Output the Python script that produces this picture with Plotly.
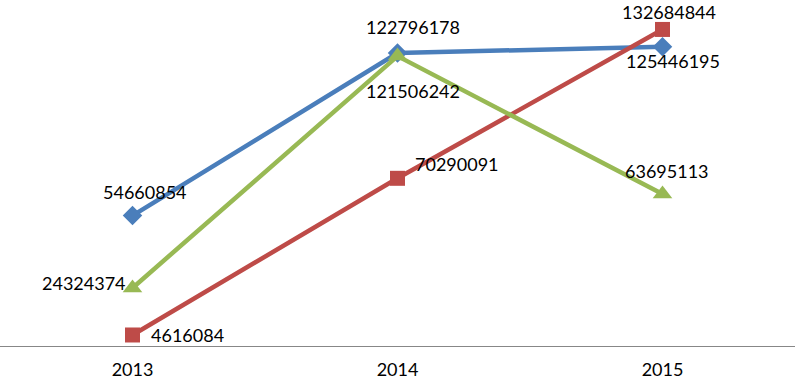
import plotly.graph_objects as go

years = ["2013", "2014", "2015"]
blue_vals = [54660854, 122796178, 125446195]
red_vals = [4616084, 70290091, 132684844]
green_vals = [24324374, 121506242, 63695113]

# label offsets in pixels (dx right, dy down) from each marker to its label centre
blue_off = [(12, -24), (15, -26), (10, 14)]
red_off = [(55, 0), (59, -14), (6, -17)]
green_off = [(-49, -5), (15, 35), (4, -23)]

font = dict(family="Lato, 'Open Sans', sans-serif", size=18, color="#000000")

series = [
    (blue_vals, "#4A7EBB", "diamond", 15, blue_off),
    (red_vals, "#BE4B48", "square", 15, red_off),
    (green_vals, "#98B954", "triangle-up", 17, green_off),
]

fig = go.Figure()
annotations = []
for vals, color, sym, msize, offs in series:
    fig.add_trace(go.Scatter(
        x=years, y=vals, mode="lines+markers",
        line=dict(color=color, width=4.5),
        marker=dict(symbol=sym, size=msize, color=color),
        cliponaxis=False, showlegend=False))
    for i, (yv, (dx, dy)) in enumerate(zip(vals, offs)):
        # category axis: annotation x given as category index
        annotations.append(dict(
            x=i, y=yv, xref="x", yref="y", text=str(yv), showarrow=False,
            xanchor="center", yanchor="middle", xshift=dx, yshift=-dy,
            borderpad=0, font=font))

fig.update_layout(
    width=795, height=379,
    margin=dict(l=0, r=0, t=12, b=33),
    plot_bgcolor="white", paper_bgcolor="white",
    font=font,
    annotations=annotations,
    xaxis=dict(type="category", range=[-0.5, 2.5], showgrid=False, zeroline=False,
               showline=True, linecolor="#878787", linewidth=1, ticks="",
               ticklabelstandoff=7, tickfont=font, automargin=False),
    yaxis=dict(range=[0, 140000000], showgrid=False, zeroline=False,
               showline=False, showticklabels=False, automargin=False),
)
fig.write_html("out.html", config={"displayModeBar": False},
               post_script="document.body.style.margin='0';")
